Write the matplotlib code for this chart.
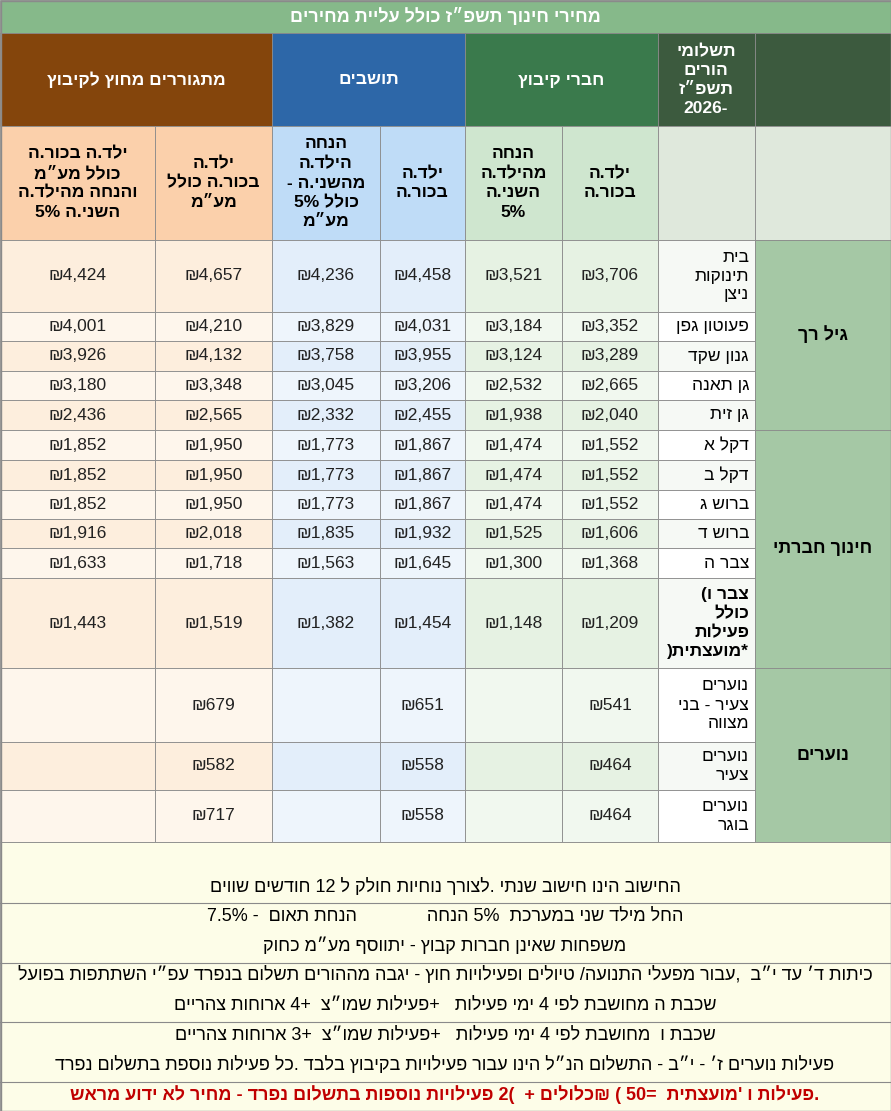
import re

import matplotlib
matplotlib.use("Agg")
import matplotlib.pyplot as plt
from matplotlib.patches import Rectangle

plt.rcParams["font.family"] = ["Liberation Sans Narrow", "Liberation Sans", "DejaVu Sans"]

# ---- data ----
title = "מחירי חינוך תשפ״ז כולל עליית מחירים"
bands = ["מתגוררים מחוץ לקיבוץ", "תושבים", "חברי קיבוץ"]
payments_header = ["תשלומי", "הורים", "תשפ״ז", "-2026"]
sub_headers = [
    ["ילד.ה בכור.ה", "כולל מע״מ", "והנחה מהילד.ה", "השני.ה 5%"],
    ["ילד.ה", "בכור.ה כולל", "מע״מ"],
    ["הנחה", "הילד.ה", "מהשני.ה -", "כולל 5%", "מע״מ"],
    ["ילד.ה", "בכור.ה"],
    ["הנחה", "מהילד.ה", "השני.ה", "5%"],
    ["ילד.ה", "בכור.ה"],
]
row_names = [
    ["בית", "תינוקות", "ניצן"], ["פעוטון גפן"], ["גנון שקד"], ["גן תאנה"], ["גן זית"],
    ["דקל א"], ["דקל ב"], ["ברוש ג"], ["ברוש ד"], ["צבר ה"],
    ["צבר ו(", "כולל", "פעילות", "*מועצתית)"],
    ["נוערים", "צעיר - בני", "מצווה"], ["נוערים", "צעיר"], ["נוערים", "בוגר"],
]
bold_rows = [10]
groups = ["גיל רך", "חינוך חברתי", "נוערים"]
group_rows = [(0, 5), (5, 11), (11, 14)]
members_first = [3706, 3352, 3289, 2665, 2040, 1552, 1552, 1552, 1606, 1368, 1209, 541, 464, 464]
members_second = [3521, 3184, 3124, 2532, 1938, 1474, 1474, 1474, 1525, 1300, 1148, None, None, None]
residents_first = [4458, 4031, 3955, 3206, 2455, 1867, 1867, 1867, 1932, 1645, 1454, 651, 558, 558]
residents_second = [4236, 3829, 3758, 3045, 2332, 1773, 1773, 1773, 1835, 1563, 1382, None, None, None]
outside_first = [4657, 4210, 4132, 3348, 2565, 1950, 1950, 1950, 2018, 1718, 1519, 679, 582, 717]
outside_second = [4424, 4001, 3926, 3180, 2436, 1852, 1852, 1852, 1916, 1633, 1443, None, None, None]
notes = [
    "החישוב הינו חישוב שנתי .לצורך נוחיות חולק ל 12 חודשים שווים",
    "החל מילד שני במערכת  5% הנחה              הנחת תאום  - 7.5%",
    "משפחות שאינן חברות קבוץ - יתווסף מע״מ כחוק",
    "כיתות ד׳ עד י״ב  ,עבור מפעלי התנועה/ טיולים ופעילויות חוץ - יגבה מההורים תשלום בנפרד עפ״י השתתפות בפועל",
    "שכבת ה מחושבת לפי 4 ימי פעילות   +פעילות שמו״צ  +4 ארוחות צהריים",
    "שכבת ו  מחושבת לפי 4 ימי פעילות   +פעילות שמו״צ  +3 ארוחות צהריים",
    "פעילות נוערים ז׳ - י״ב - התשלום הנ״ל הינו עבור פעילויות בקיבוץ בלבד .כל פעילות נוספת בתשלום נפרד",
]
red_note = ".פעילות ו 'מועצתית  =50 ( ₪כלולים +  (2 פעילויות נוספות בתשלום נפרד - מחיר לא ידוע מראש"


def rtl(s):
    # matplotlib has no bidi: reverse, keeping number runs intact
    tokens = re.findall(r"[0-9][0-9.,%]*|.", s)
    return "".join(tokens[::-1])


# ---- layout (pixels) ----
W, H = 891, 1111
col_x = [0, 155, 272, 380, 465, 562, 658, 755, 891]
row_y = [240, 312, 341, 371, 400, 430, 460, 490, 519, 548, 578, 668, 742, 790, 842]
grid = "#8a8a8a"

fig = plt.figure(figsize=(W / 100, H / 100), dpi=100)
ax = fig.add_axes([0, 0, 1, 1])
ax.set_xlim(0, W)
ax.set_ylim(H, 0)
ax.axis("off")


def cell(x0, x1, y0, y1, color, lw=0.6):
    ax.add_patch(Rectangle((x0, y0), x1 - x0, y1 - y0, facecolor=color, edgecolor=grid, lw=lw))


def lines_text(xc, yc, lines, size=11, color="black", weight="bold", ha="center", gap=16):
    n = len(lines)
    for i, ln in enumerate(lines):
        ax.text(xc, yc + (i - (n - 1) / 2) * gap, rtl(ln), ha=ha, va="center",
                fontsize=size, color=color, fontweight=weight)


# title
cell(0, W, 0, 33, "#86b98a")
ax.text(W / 2, 17, rtl(title), ha="center", va="center", color="white", fontsize=13, fontweight="bold")

# band headers
band_colors = ["#84450c", "#2d67a8", "#3a7a4c"]
for i, (name, c) in enumerate(zip(bands, band_colors)):
    x0, x1 = col_x[2 * i], col_x[2 * i + 2]
    cell(x0, x1, 33, 126, c)
    ax.text((x0 + x1) / 2, 80, rtl(name), ha="center", va="center", color="white",
            fontsize=12.5, fontweight="bold")
cell(658, 755, 33, 126, "#3c5a3e")
cell(755, 891, 33, 126, "#3c5a3e")
lines_text(706, 80, payments_header, size=12.5, color="white", gap=19)

# sub headers
sub_colors = ["#fbd0ab", "#fbd0ab", "#bfdcf7", "#bfdcf7", "#cfe6cf", "#cfe6cf"]
for i, (txt, c) in enumerate(zip(sub_headers, sub_colors)):
    x0, x1 = col_x[i], col_x[i + 1]
    cell(x0, x1, 126, 240, c)
    lines_text((x0 + x1) / 2, 183, txt, size=12.5, gap=19.5)
cell(658, 755, 126, 240, "#dfe8dc")
cell(755, 891, 126, 240, "#dfe8dc")

# data cells
series = [outside_second, outside_first, residents_second, residents_first, members_second, members_first]
pale = [("#fdeedd", "#fef6ec"), ("#fdeedd", "#fef6ec"), ("#e3eefa", "#eef5fc"),
        ("#e3eefa", "#eef5fc"), ("#e6f2e3", "#f1f8ef"), ("#e6f2e3", "#f1f8ef")]
for r in range(len(row_names)):
    y0, y1 = row_y[r], row_y[r + 1]
    for j, vals in enumerate(series):
        x0, x1 = col_x[j], col_x[j + 1]
        cell(x0, x1, y0, y1, pale[j][r % 2])
        v = vals[r]
        if v is not None:
            ax.text((x0 + x1) / 2, (y0 + y1) / 2, f"₪{v:,}", ha="center", va="center",
                    fontsize=12.5, color="#222222")
    cell(658, 755, y0, y1, "white" if r % 2 else "#f6f9f5")
    wt = "bold" if r in bold_rows else "normal"
    lines_text(749, (y0 + y1) / 2, row_names[r], size=12.5, weight=wt, ha="right", gap=19)

for name, (a, b) in zip(groups, group_rows):
    y0, y1 = row_y[a], row_y[b]
    cell(755, 891, y0, y1, "#a5c8a5")
    ax.text(823, (y0 + y1) / 2, rtl(name), ha="center", va="center", fontsize=13, fontweight="bold")

# notes
cell(0, W, 842, 1111, "#fdfde8")
for y in [903, 963, 1022, 1082]:
    ax.plot([0, W], [y, y], color=grid, lw=0.8)
note_y = [887, 916, 946, 975, 1005, 1035, 1065]
for y, t in zip(note_y, notes):
    ax.text(445, y, rtl(t), ha="center", va="center", fontsize=13, clip_on=True)
ax.text(445, 1095, rtl(red_note), ha="center", va="center", fontsize=13,
        color="#c00000", fontweight="bold")
ax.add_patch(Rectangle((0.5, 0.5), W - 1, H - 1, fill=False, edgecolor=grid, lw=1))

fig.savefig("out.png", dpi=100)
